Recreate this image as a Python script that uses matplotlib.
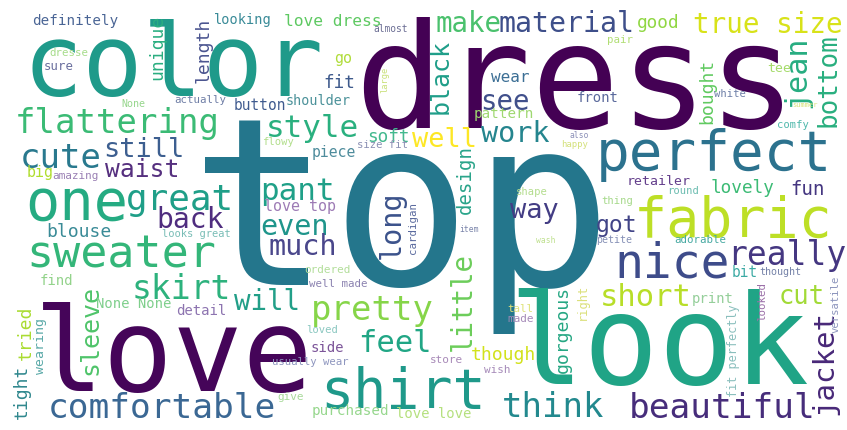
"""Word cloud of review vocabulary, redrawn with plain matplotlib text."""

import matplotlib

matplotlib.use("Agg")
import matplotlib.pyplot as plt

W, H, DPI = 847, 431, 100

# words and their cloud font size (em height in px, proportional to frequency)
WORDS = [
    "top", "dress", "color", "love", "look", "perfect", "fabric", "nice", "shirt",
    "sweater", "one", "flattering", "comfortable", "beautiful", "think", "pretty",
    "feel", "skirt", "great", "cute", "short", "jacket", "little", "long",
    "true size", "material", "make", "black", "well", "work", "style", "still",
    "waist", "back", "pant", "even", "much", "will", "way", "jean", "bottom",
    "see", "really", "got", "fun", "lovely", "tried", "tight", "sleeve", "design",
    "gorgeous", "though", "cut", "bought", "good", "love dress", "blouse",
    "definitely", "unique", "length", "looking", "button", "fit", "wear",
    "shoulder", "pattern", "soft", "piece", "front", "retailer", "find", "detail",
    "None None", "purchased", "love love", "love top", "side", "print", "wearing",
    "fit perfectly", "sure", "dresse", "None", "actually", "almost", "go", "large",
    "tee", "pair", "white", "summer", "comfy", "happy", "also", "round", "thing",
    "petite", "adorable", "bit", "thought", "big", "amazing", "looks great",
    "flowy", "size fit", "cardigan", "shape", "item", "wash", "ordered",
    "well made", "loved", "usually wear", "store", "wish", "tall", "made",
    "right", "give", "looked", "versatile",
]
FONT_PX = [
    234, 147, 100, 116, 125, 56, 55, 48, 55,
    45, 57, 34, 34.5, 34.4, 34, 34,
    30.5, 33, 36, 34, 30.5, 29, 27.5, 28.5,
    27.6, 28.3, 27.5, 25, 27, 28.5, 31, 27,
    24.6, 28, 31, 28.5, 28.5, 27.5, 27, 30, 26,
    27.5, 33, 23, 19, 17.7, 18, 18, 25, 19,
    18.2, 18, 25.5, 18, 17.8, 16.2, 18,
    14.3, 18, 18, 13.6, 14.5, 17.6, 16,
    13.5, 14.3, 17.8, 14.7, 14, 13.3, 14, 14,
    13.9, 14.3, 14, 15, 14, 14, 13.3,
    11.7, 12.4, 10.7, 10, 10.7, 9.6, 15, 8.8,
    13.3, 10.7, 10.5, 7, 10.5, 9, 8, 10.5, 10.5,
    10, 10.7, 14.5, 10, 15, 11, 10.4,
    10.5, 10.5, 10.7, 10.5, 8, 8, 11,
    10.8, 10.5, 10.6, 11, 11, 10.7, 11,
    12, 11, 10.7, 10.5,
]

# placement found by the cloud layout: (x, y, vertical) in image pixels.
# horizontal words: x = centre, y = baseline; vertical words: x = baseline, y = centre
LAYOUT = [
    (401, 285, 0), (575, 128, 0), (173, 96, 0), (173.5, 391, 0), (659, 384, 0),
    (713.5, 170, 0), (733.5, 237, 0), (672.5, 278, 0), (403, 408, 0),
    (121.5, 268, 0), (76.5, 220, 0), (117, 133, 0), (161.5, 418, 0), (722.5, 418, 0),
    (553, 417, 0), (372.5, 320, 0), (395, 352, 0), (181, 299, 0), (180, 210, 0),
    (61, 168, 0), (646, 306, 0), (832, 363, 1), (471, 302, 1), (400, 225, 1),
    (767.5, 33, 0), (566, 32, 0), (468.5, 32, 0), (448, 76, 1), (444, 147, 0),
    (515.5, 142, 0), (312.5, 137, 0), (144, 157, 0), (142, 177, 0), (190, 228, 0),
    (297.5, 200, 0), (294.5, 235, 0), (302.5, 255, 0), (266.5, 310, 0),
    (534.5, 218, 0), (805, 72, 1), (836, 80, 1), (505, 110, 0), (786.5, 265, 0),
    (616, 232, 0), (807.5, 195, 0), (742.5, 193, 0), (31, 333, 1), (27, 392, 1),
    (97, 330, 1), (471, 180, 1), (568, 330, 1), (504, 360, 0), (801.5, 304, 0),
    (712, 91, 1), (658, 28, 0), (332.5, 26, 0), (79, 237, 0), (75, 25, 0),
    (162, 47, 1), (209, 50, 1), (242.5, 24, 0), (260, 110, 0), (339, 88, 0),
    (510, 82, 0), (318.5, 105, 0), (504, 118, 0), (388, 142, 0), (334, 157, 0),
    (598, 102, 0), (659, 185, 0), (56, 285, 0), (201, 315, 0), (133.5, 308, 0),
    (350.5, 415, 0), (433.5, 418, 0), (300, 211, 0), (327.5, 352, 0), (713, 303, 0),
    (44, 346, 1), (737, 351, 1), (59, 70, 0), (68.5, 56, 0), (133.5, 107, 0),
    (200, 103, 0), (391, 32, 0), (343, 63, 0), (387, 80, 1), (779, 72, 0),
    (620, 43, 0), (730, 97, 0), (805, 107, 0), (793, 128, 0), (575, 147, 0),
    (579, 138, 0), (683, 194, 0), (617, 204, 0), (614.5, 243, 0), (700, 243, 0),
    (745, 277, 0), (780, 275, 0), (40.5, 177, 0), (75, 179, 0), (196.5, 237, 0),
    (278, 145, 0), (382.5, 148, 0), (416, 228, 1), (532, 195, 0), (469, 232, 0),
    (545.5, 243, 0), (327.5, 273, 0), (338.5, 287, 0), (322, 333, 0),
    (310.5, 365, 0), (446, 363, 0), (497.5, 373, 0), (520, 312, 0), (520.5, 322, 0),
    (586, 302, 1), (290.5, 400, 0), (765, 302, 1), (838, 304, 1),
]

COLORS = [
    "#24768c", "#440154", "#1f9a8a", "#450559", "#20a486", "#2c728e", "#bddf26",
    "#3e4c8a", "#1f998a", "#34b679", "#25ab82", "#3bbb75", "#3b6894", "#472d7b",
    "#23898e", "#86d549", "#21a685", "#2db27d", "#1f9f88", "#29798e", "#b8de29",
    "#482878", "#6ccd5a", "#3b528b", "#d8e219", "#3e4f8a", "#4ac16d", "#1f9e89",
    "#fde725", "#25858e", "#2ab07f", "#3d5f90", "#56307f", "#4f2d7f", "#1fa088",
    "#1f958b", "#4a478b", "#229f88", "#433d84", "#27ad81", "#29af7f", "#41508b",
    "#453781", "#414487", "#453781", "#3cbb75", "#aadc32", "#30888e", "#4fc46a",
    "#29a48a", "#26a783", "#d2e21b", "#a2da37", "#60ca60", "#90d743", "#5ec962",
    "#3a8b97", "#4a6595", "#2aae80", "#4b5590", "#3a8b98", "#3e5a8e", "#3e5a8c",
    "#3c6f95", "#4c929a", "#9fd870", "#43b98e", "#4e8c9c", "#5b6a9c", "#643f8c",
    "#93d38b", "#8d74b0", "#7fcf8c", "#96d78d", "#b5e07f", "#9d7bb5", "#7c5599",
    "#95cf9a", "#5aa9a8", "#8abfbd", "#6a6f9e", "#a6dc8a", "#96d68c", "#6f7ea6",
    "#6c6e94", "#b0dc3a", "#c9e07a", "#a5db6a", "#b1de74", "#6f80a8", "#d6e27a",
    "#4fb8ab", "#d4e17a", "#8c90b8", "#6bbcb0", "#a6d98b", "#8590b6", "#47a9a2",
    "#3aa9a3", "#7582a8", "#b0dd2f", "#9a80b4", "#79bdb6", "#b2de8c", "#8a90b3",
    "#5a6a9e", "#b4dd8e", "#7a84aa", "#bfe08f", "#b2de9a", "#8b82b0", "#8ac7c0",
    "#8e96bf", "#a88ab8", "#a68bb9", "#dfe27a", "#a58ab8", "#dbe07a", "#a8d99a",
    "#9a6fa8", "#8d95bd",
]

fig = plt.figure(figsize=(W / DPI, H / DPI), dpi=DPI)
fig.patch.set_facecolor("white")
ax = fig.add_axes([0, 0, 1, 1])
ax.set_xlim(0, W)
ax.set_ylim(H, 0)
ax.axis("off")

for word, px, (x, y, vert), color in zip(WORDS, FONT_PX, LAYOUT, COLORS):
    ax.text(
        x, y, word, fontsize=px * 72 / DPI, family="DejaVu Sans Mono", color=color,
        ha="center", va="baseline", rotation=90 if vert else 0, rotation_mode="anchor",
    )

fig.savefig("out.png", dpi=DPI, facecolor="white")
